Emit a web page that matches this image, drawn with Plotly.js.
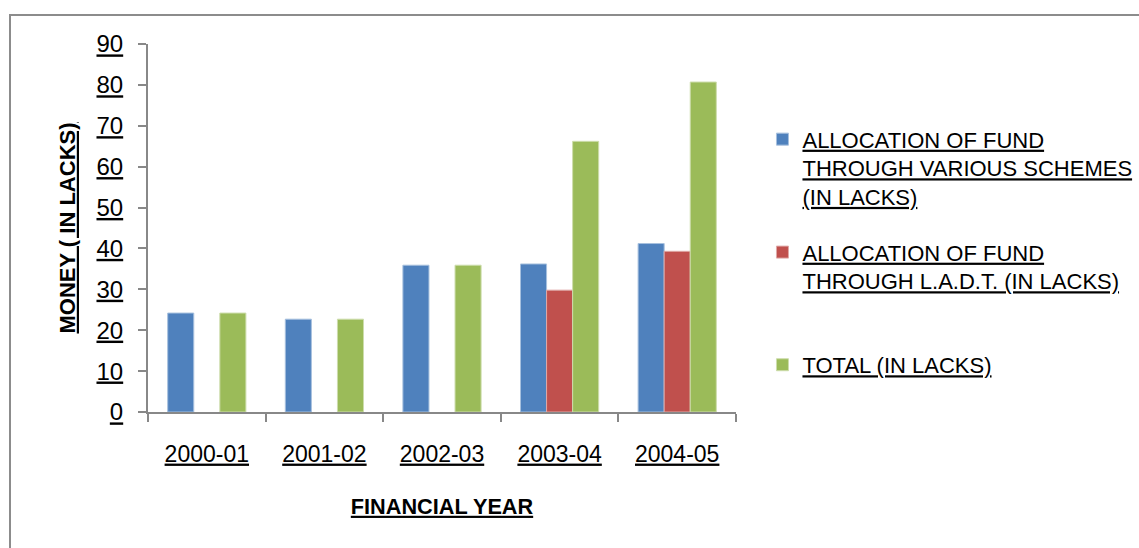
<!DOCTYPE html>
<html>
<head>
<meta charset="utf-8">
<script src="https://cdn.plot.ly/plotly-3.0.1.min.js"></script>
<style>
html,body{margin:0;padding:0;background:#fff;overflow:hidden;}
#chart{width:1139px;height:548px;}
#chart svg text{text-decoration-thickness:2px;}
</style>
</head>
<body>
<div id="chart"></div>
<script>
var years = ["2000-01", "2001-02", "2002-03", "2003-04", "2004-05"];
var seriesNames = [
  "ALLOCATION OF FUND<br>THROUGH VARIOUS SCHEMES<br>(IN LACKS)",
  "ALLOCATION OF FUND<br>THROUGH L.A.D.T. (IN LACKS)",
  "TOTAL (IN LACKS)"
];
var schemes = [24.2, 22.7, 35.9, 36.2, 41.2];
var ladt = [null, null, null, 29.8, 39.3];
var total = [24.2, 22.7, 35.9, 66.2, 80.7];
var yTicks = [0, 10, 20, 30, 40, 50, 60, 70, 80, 90];

var colors = ["#4F81BD", "#C0504D", "#9BBB59"];
var edges = ["#A7C0DE", "#DFA9A7", "#CDDDAC"];
var reg = "'Liberation Sans', Arial, sans-serif";

var data = [schemes, ladt, total].map(function (vals, i) {
  return {
    type: "bar",
    x: years,
    y: vals,
    name: seriesNames[i],
    legend: i === 0 ? "legend" : ("legend" + (i + 1)),
    marker: { color: colors[i], line: { color: edges[i], width: 1 } },
    hoverinfo: "x+y"
  };
});

var legFont = { family: reg, size: 22, color: "#000", lineposition: "under" };
function leg(y) {
  return { x: 1.045, y: y, xanchor: "left", yanchor: "top", font: legFont,
           bgcolor: "rgba(0,0,0,0)", borderwidth: 0, valign: "top" };
}

var layout = {
  width: 1139, height: 548,
  margin: { l: 148, r: 403, t: 44, b: 136, autoexpand: false },
  paper_bgcolor: "#fff", plot_bgcolor: "#fff",
  barmode: "group", bargap: 0.335, bargroupgap: 0,
  showlegend: true,
  legend: leg(0.798),
  legend2: leg(0.491),
  legend3: leg(0.185),
  xaxis: {
    type: "category",
    showline: true, linecolor: "#888888", linewidth: 2,
    ticks: "outside", tickson: "boundaries", ticklen: 8, tickwidth: 2, tickcolor: "#888888",
    tickfont: { family: reg, size: 23, color: "#000", lineposition: "under" },
    ticklabelstandoff: 20,
    showgrid: false, zeroline: false,
    title: { text: "<b>FINANCIAL YEAR</b>", standoff: 33,
             font: { family: reg, size: 21.7, color: "#000", lineposition: "under" } },
    automargin: false
  },
  yaxis: {
    range: [0, 90], tickvals: yTicks, ticktext: yTicks.map(String),
    showline: true, linecolor: "#888888", linewidth: 2,
    ticks: "outside", ticklen: 8, tickwidth: 2, tickcolor: "#888888",
    tickfont: { family: reg, size: 24, color: "#000", lineposition: "under" },
    ticklabelstandoff: 10,
    showgrid: false, zeroline: false,
    title: { text: "<b>MONEY ( IN LACKS)</b>", standoff: 15,
             font: { family: reg, size: 22, color: "#000", lineposition: "under" } },
    automargin: false
  },
  shapes: [{
    type: "rect", xref: "paper", yref: "paper",
    x0: (10 - 148) / 588, x1: 2, y0: -1, y1: (412 - 15) / 368,
    line: { color: "#8C8C8C", width: 2 }, fillcolor: "rgba(0,0,0,0)", layer: "below"
  }]
};

Plotly.newPlot("chart", data, layout, { displayModeBar: false, staticPlot: true });
</script>
</body>
</html>
